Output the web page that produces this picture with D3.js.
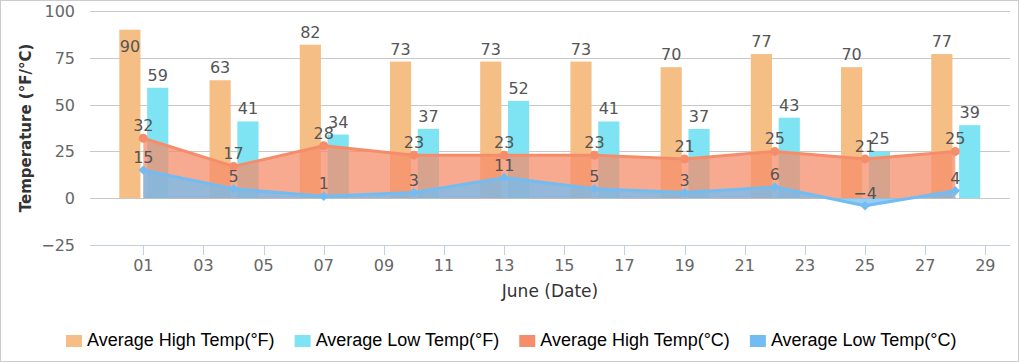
<!DOCTYPE html>
<html>
<head>
<meta charset="utf-8">
<script src="https://cdn.jsdelivr.net/npm/d3@7"></script>
<style>
  html, body { margin: 0; padding: 0; background: #fff; }
  svg { display: block; }
</style>
</head>
<body>
<svg id="chart" width="1020" height="362"></svg>
<script>
// ---- data ----
const days = [1, 4, 7, 10, 13, 16, 19, 22, 25, 28];
const highF = [90, 63, 82, 73, 73, 73, 70, 77, 70, 77];
const lowF = [59, 41, 34, 37, 52, 41, 37, 43, 25, 39];
const highC = [32, 17, 28, 23, 23, 23, 21, 25, 21, 25];
const lowC = [15, 5, 1, 3, 11, 5, 3, 6, -4, 4];
const xTicks = [1, 3, 5, 7, 9, 11, 13, 15, 17, 19, 21, 23, 25, 27, 29];
const yTicks = [-25, 0, 25, 50, 75, 100];
const seriesNames = ["Average High Temp(°F)", "Average Low Temp(°F)", "Average High Temp(°C)", "Average Low Temp(°C)"];
const xTitle = "June (Date)";
const yTitle = "Temperature (°F/°C)";

// ---- styles ----
const colors = { highF: "#F5BE85", lowF: "#7EE3F2", highC: "#F58D6B", lowC: "#72BCF2" };
const svg = d3.select("#chart");
const plot = { left: 90, right: 1010, top: 11, bottom: 245 };

svg.append("rect").attr("x", 0.5).attr("y", 0.5).attr("width", 1018).attr("height", 361)
  .attr("fill", "#fff").attr("stroke", "#ccc");

const x = d3.scaleLinear().domain([-0.773, 29.82]).range([plot.left, plot.right]);
const y = d3.scaleLinear().domain([-25, 100]).range([plot.bottom, plot.top]);
const grp = d3.scaleBand().domain(["highF", "lowF"]).range([-24, 25]).paddingInner(0.24);
const fmt = d3.format("d");

// grid lines
svg.append("g").selectAll("line").data(yTicks.filter(t => t > -25)).join("line")
  .attr("x1", plot.left).attr("x2", plot.right)
  .attr("y1", d => Math.round(y(d)) + 0.5).attr("y2", d => Math.round(y(d)) + 0.5)
  .attr("stroke", "#c8c8c8").attr("stroke-width", 1);

// y labels
svg.append("g").selectAll("text").data(yTicks).join("text")
  .attr("x", 75).attr("y", d => y(d) + 6)
  .attr("text-anchor", "end")
  .attr("font-family", "DejaVu Sans").attr("font-size", 16).attr("fill", "#666")
  .text(d => fmt(d));

// x axis line and ticks
svg.append("line").attr("x1", plot.left).attr("x2", plot.right)
  .attr("y1", plot.bottom + 0.5).attr("y2", plot.bottom + 0.5).attr("stroke", "#C0D0E0");
svg.append("g").selectAll("line").data(xTicks).join("line")
  .attr("x1", d => Math.round(x(d)) + 0.5).attr("x2", d => Math.round(x(d)) + 0.5)
  .attr("y1", plot.bottom).attr("y2", plot.bottom + 10).attr("stroke", "#C0D0E0");
svg.append("g").selectAll("text").data(xTicks).join("text")
  .attr("x", d => x(d)).attr("y", 271)
  .attr("text-anchor", "middle")
  .attr("font-family", "DejaVu Sans").attr("font-size", 16).attr("fill", "#666")
  .text(d => d3.format("02d")(d));

// axis titles
svg.append("text").attr("x", (plot.left + plot.right) / 2).attr("y", 297)
  .attr("text-anchor", "middle").attr("font-family", "DejaVu Sans").attr("font-size", 17)
  .attr("fill", "#333").text(xTitle);
svg.append("text").attr("transform", `translate(31,${(plot.top + plot.bottom) / 2}) rotate(-90)`)
  .attr("text-anchor", "middle").attr("font-family", "DejaVu Sans").attr("font-size", 15)
  .attr("font-weight", "bold").attr("fill", "#333").text(yTitle);

// bars
const barData = [];
days.forEach((d, i) => {
  barData.push({ key: "highF", day: d, v: highF[i] });
  barData.push({ key: "lowF", day: d, v: lowF[i] });
});
svg.append("g").selectAll("rect").data(barData).join("rect")
  .attr("x", d => x(d.day) + grp(d.key))
  .attr("width", grp.bandwidth())
  .attr("y", d => y(d.v))
  .attr("height", d => y(0) - y(d.v))
  .attr("fill", d => colors[d.key]);

// areas + lines + markers
function drawArea(vals, color, symbol) {
  const pts = days.map((d, i) => ({ day: d, v: vals[i] }));
  const g = svg.append("g");
  g.append("path").datum(pts)
    .attr("d", d3.area().x(d => x(d.day)).y0(y(0)).y1(d => y(d.v)))
    .attr("fill", color).attr("fill-opacity", 0.75);
  g.append("path").datum(pts)
    .attr("d", d3.line().x(d => x(d.day)).y(d => y(d.v)))
    .attr("fill", "none").attr("stroke", color).attr("stroke-width", 3).attr("stroke-linejoin", "round");
  if (symbol === "circle") {
    g.selectAll("circle").data(pts).join("circle")
      .attr("cx", d => x(d.day)).attr("cy", d => y(d.v)).attr("r", 4.5).attr("fill", color);
  } else {
    g.selectAll("path.m").data(pts).join("path").attr("class", "m")
      .attr("transform", d => `translate(${x(d.day)},${y(d.v)}) rotate(45)`)
      .attr("d", d3.symbol(d3.symbolSquare, 45)).attr("fill", color);
  }
  return pts;
}
const hcPts = drawArea(highC, colors.highC, "circle");
const lcPts = drawArea(lowC, colors.lowC, "diamond");

// data labels
const labels = svg.append("g").attr("font-family", "DejaVu Sans").attr("font-size", 16)
  .attr("fill", "#555").attr("text-anchor", "middle");
barData.forEach(d => {
  const top = y(d.v);
  let by = top - 7;
  if (by - 17 < plot.top) by = top + 22;
  labels.append("text").attr("x", x(d.day) + grp(d.key) + grp.bandwidth() / 2).attr("y", by).text(fmt(d.v));
});
hcPts.concat(lcPts).forEach(d => {
  labels.append("text").attr("x", x(d.day)).attr("y", y(d.v) - 7).text(fmt(d.v));
});

// legend
const legend = svg.append("g").attr("font-family", "Liberation Sans, Arial").attr("font-size", 18).attr("fill", "#000");
const legColors = [colors.highF, colors.lowF, colors.highC, colors.lowC];
let lx = 66;
seriesNames.forEach((name, i) => {
  legend.append("rect").attr("x", lx).attr("y", 335).attr("width", 16).attr("height", 12).attr("fill", legColors[i]);
  const t = legend.append("text").attr("x", lx + 21).attr("y", 346).text(name);
  const w = t.node().getComputedTextLength();
  lx = lx + 21 + w + 20;
});
</script>
</body>
</html>
